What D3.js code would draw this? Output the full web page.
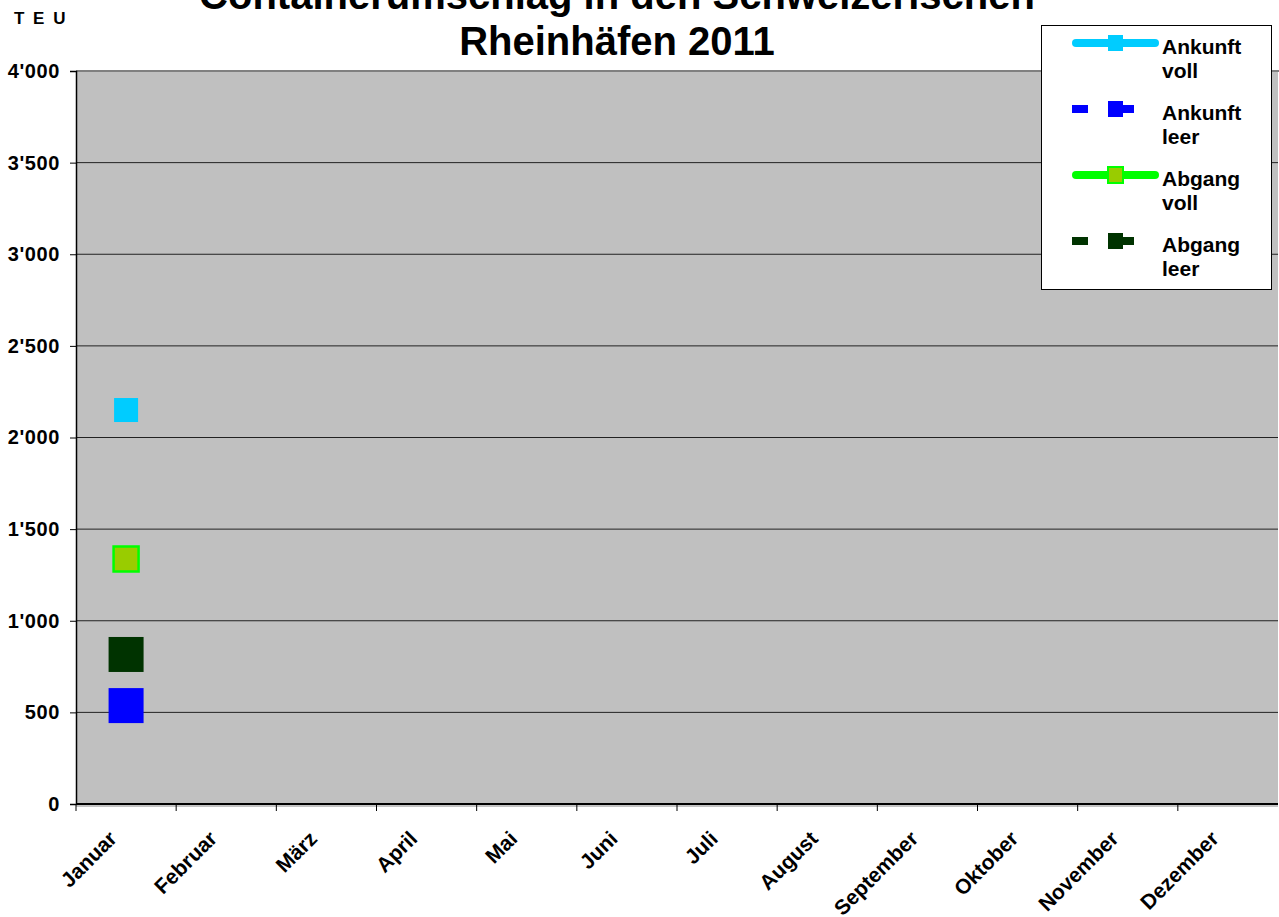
<!DOCTYPE html>
<html>
<head>
<meta charset="utf-8">
<script src="https://cdn.jsdelivr.net/npm/d3@7"></script>
<style>
  body { margin: 0; background: #fff; }
  text { font-family: "Liberation Sans", Arial, sans-serif; font-weight: bold; }
</style>
</head>
<body>
<script>
let months = ["Januar", "Februar", "März", "April", "Mai", "Juni", "Juli",
    "August", "September", "Oktober", "November", "Dezember"]
let ankunft_voll = [2150, null, null, null, null, null, null, null, null, null, null, null]
let ankunft_leer = [537, null, null, null, null, null, null, null, null, null, null, null]
let abgang_voll = [1337, null, null, null, null, null, null, null, null, null, null, null]
let abgang_leer = [816, null, null, null, null, null, null, null, null, null, null, null]
let y_ticks = [0, 500, 1000, 1500, 2000, 2500, 3000, 3500, 4000]

let width = 1279, height = 917;
let plotLeft = 76, plotRight = 1278, plotTop = 71, plotBottom = 804;

// series: name lines, line colour, marker fill, marker stroke, marker size, dashed
let series = [
    { label: ["Ankunft", "voll"], data: ankunft_voll, color: "#00CCFF", fill: "#00CCFF", stroke: "none", size: 24, dash: false },
    { label: ["Ankunft", "leer"], data: ankunft_leer, color: "#0000FF", fill: "#0000FF", stroke: "none", size: 35, dash: true },
    { label: ["Abgang", "voll"], data: abgang_voll, color: "#00FF00", fill: "#99CC00", stroke: "#00FF00", size: 25, dash: false },
    { label: ["Abgang", "leer"], data: abgang_leer, color: "#003300", fill: "#003300", stroke: "none", size: 35, dash: true }
]

let svg = d3.select("body").append("svg")
    .attr("width", width)
    .attr("height", height)

let x = d3.scaleBand().domain(months).range([plotLeft, plotRight])
let y = d3.scaleLinear().domain([0, 4000]).range([plotBottom, plotTop])

// plot area
svg.append("rect")
    .attr("x", plotLeft).attr("y", plotTop)
    .attr("width", plotRight - plotLeft).attr("height", plotBottom - plotTop)
    .attr("fill", "#C0C0C0")

// gridlines
svg.append("g").selectAll("line")
    .data(y_ticks.filter(d => d > 0 && d < 4000))
    .enter().append("line")
    .attr("x1", plotLeft).attr("x2", plotRight)
    .attr("y1", d => y(d)).attr("y2", d => y(d))
    .attr("stroke", "#222").attr("stroke-width", 1)

// top border
svg.append("line")
    .attr("x1", plotLeft).attr("x2", plotRight + 1)
    .attr("y1", plotTop).attr("y2", plotTop)
    .attr("stroke", "#808080").attr("stroke-width", 2)

// y axis
let yAxis = svg.append("g")
    .attr("transform", "translate(" + plotLeft + ",0)")
    .call(d3.axisLeft(y).tickValues(y_ticks).tickSize(6).tickPadding(10)
        .tickFormat(d => d3.format(",")(d).replace(",", "'")))
yAxis.select(".domain").attr("stroke", "#000").attr("stroke-width", 1.5)
yAxis.selectAll(".tick line").attr("stroke", "#000")
yAxis.selectAll(".tick text").attr("font-size", 20).attr("fill", "#000")
    .attr("letter-spacing", 0.6)
    .attr("font-family", "Liberation Sans, Arial, sans-serif").attr("font-weight", "bold")

// x axis
let xAxis = svg.append("g")
    .attr("transform", "translate(0," + plotBottom + ")")
    .call(d3.axisBottom(x).tickSize(0).tickFormat(""))
xAxis.select(".domain").attr("stroke", "#000").attr("stroke-width", 2).attr("d", "M" + plotLeft + ",0H" + plotRight)
svg.append("line")
    .attr("x1", plotLeft).attr("x2", plotRight)
    .attr("y1", plotBottom + 2).attr("y2", plotBottom + 2)
    .attr("stroke", "#888").attr("stroke-width", 1)
svg.append("g").selectAll("line")
    .data(months)
    .enter().append("line")
    .attr("x1", d => x(d)).attr("x2", d => x(d))
    .attr("y1", plotBottom).attr("y2", plotBottom + 7)
    .attr("stroke", "#000").attr("stroke-width", 1)
svg.append("g").selectAll("text")
    .data(months)
    .enter().append("text")
    .attr("transform", d => "translate(" + (x(d) + x.bandwidth() / 2 - 8) + "," + (plotBottom + 36) + ") rotate(-45)")
    .attr("text-anchor", "end")
    .attr("font-size", 21)
    .text(d => d)

// series lines and markers
series.forEach(function(s) {
    let line = d3.line()
        .defined(d => d != null)
        .x((d, i) => x(months[i]) + x.bandwidth() / 2)
        .y(d => y(d))
    svg.append("path")
        .datum(s.data)
        .attr("d", line)
        .attr("fill", "none")
        .attr("stroke", s.color)
        .attr("stroke-width", 4)
        .attr("stroke-dasharray", s.dash ? "12,8" : null)

    svg.append("g").selectAll("rect")
        .data(s.data.map((d, i) => ({ v: d, m: months[i] })).filter(d => d.v != null))
        .enter().append("rect")
        .attr("x", d => x(d.m) + x.bandwidth() / 2 - s.size / 2)
        .attr("y", d => y(d.v) - s.size / 2)
        .attr("width", s.size).attr("height", s.size)
        .attr("fill", s.fill)
        .attr("stroke", s.stroke == "none" ? null : s.stroke)
        .attr("stroke-width", 2.5)
})

// title
let title = svg.append("text")
    .attr("x", 617)
    .attr("text-anchor", "middle")
    .attr("font-size", 40)
title.append("tspan").attr("x", 617).attr("y", 9).text("Containerumschlag in den Schweizerischen")
title.append("tspan").attr("x", 617).attr("y", 55).text("Rheinhäfen 2011")

// unit label
svg.append("text")
    .attr("x", 14).attr("y", 24)
    .attr("font-size", 17)
    .attr("letter-spacing", 2)
    .text("T E U")

// legend
svg.append("rect")
    .attr("x", 1041.5).attr("y", 25.5)
    .attr("width", 230).attr("height", 264)
    .attr("fill", "#fff").attr("stroke", "#000").attr("stroke-width", 1)

let item = svg.append("g").selectAll("g")
    .data(series)
    .enter().append("g")
    .attr("transform", (d, i) => "translate(0," + (43 + i * 66) + ")")

item.append("line")
    .attr("x1", d => d.dash ? 1072 : 1076).attr("x2", d => d.dash ? 1134 : 1155)
    .attr("y1", 0).attr("y2", 0)
    .attr("stroke", d => d.color)
    .attr("stroke-width", 8)
    .attr("stroke-linecap", d => d.dash ? "butt" : "round")
    .attr("stroke-dasharray", d => d.dash ? "16,20,26,100" : null)

item.append("rect")
    .attr("x", 1108).attr("y", -8)
    .attr("width", 15).attr("height", 16)
    .attr("fill", d => d.fill)
    .attr("stroke", d => d.stroke == "none" ? null : d.stroke)
    .attr("stroke-width", 2)

item.append("text")
    .attr("x", 1162).attr("y", 11)
    .attr("font-size", 21)
    .text(d => d.label[0])
item.append("text")
    .attr("x", 1162).attr("y", 35)
    .attr("font-size", 21)
    .text(d => d.label[1])
</script>
</body>
</html>
